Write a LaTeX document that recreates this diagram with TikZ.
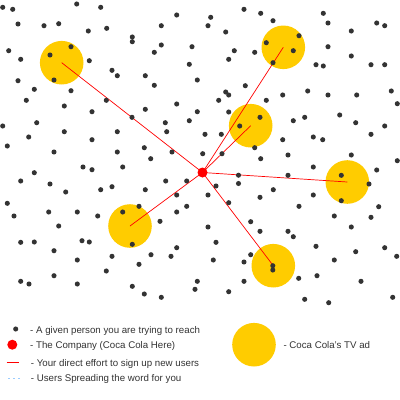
\documentclass[tikz,border=0pt]{standalone}
\usepackage{fontspec}
\setmainfont{Liberation Sans}
\definecolor{dotgray}{HTML}{333333}
\definecolor{adyellow}{HTML}{FFCC00}
\definecolor{txtgray}{HTML}{333333}
\definecolor{wordblue}{HTML}{3399FF}
\begin{document}
\begin{tikzpicture}[x=1pt,y=-1pt,
  person/.style={circle,fill=dotgray,inner sep=0pt,minimum size=5.1pt},
  company/.style={circle,fill=red,inner sep=0pt,minimum size=10pt},
  tvad/.style={circle,fill=adyellow,inner sep=0pt,minimum size=43.6pt},
  effort/.style={red,line width=0.7pt},
  spread/.style={wordblue,line width=1.2pt,dash pattern=on 0.01pt off 5pt,line cap=round},
  legtext/.style={anchor=base west,inner sep=0pt,text=txtgray,font=\fontsize{9.7}{11}\selectfont}]
\useasboundingbox (0,0) rectangle (400,400);
\fill[white] (0,0) rectangle (400,400);
% TV ads
\node[tvad] (ad1) at (61.7,62.7) {};
\node[tvad] (ad2) at (283.3,47.3) {};
\node[tvad] (ad3) at (250.7,125.7) {};
\node[tvad] (ad4) at (130,226) {};
\node[tvad] (ad5) at (347.3,182) {};
\node[tvad] (ad6) at (273.3,265.7) {};
\coordinate (co) at (202.5,172.5);
% direct efforts
\foreach \a in {ad1,ad2,ad3,ad4,ad5,ad6}
  \draw[effort] (co) -- (\a.center);
% people
\foreach [count=\i] \x/\y in {
2.7/7.3,12.7/9.3,76.7/4,100.7/7.3,176.7/15,18/24,44/25.7,58.7/23.7,88.3/31,106.7/28.3,161.3/25.7,132.3/37,132.3/41.7,161.3/45,192/46.7,8.7/50.7,71/46.7,50/55,154.3/52.3,20.7/59.3,89.3/60.7,189.3/64.3,112/70.3,117.3/75.7,145.3/75.7,197.3/80,18/80.7,54/80,154.3/85.3,34.3/89.3,71/90.7,26.3/100.3,106.3/100.3,64.3/106,176.7/104,145.3/109.3,92/111.7,197.3/111.7,132/117.3,189.3/120.7,2.7/126,36.7/122.7,165.3/122.7,166.7/131.7,64.3/131.7,117.3/131.7,28.7/137,92/139.7,7.3/146,144.3/147.7,
210.7/17.3,208/25.7,244/9.3,260.7/13.3,273/20.7,323.3/13.3,328/23,376.7/23,384.7/25.7,225.7/32,351.3/31,299/35.7,266.3/42.7,293.3/50.7,234.3/50.7,254.7/52.3,328/46.7,228.7/59.3,351.3/56,273/62.7,316/64.7,323.3/66,371/64.7,384.7/64.7,245.3/85.7,225.7/92,228.7/95,218.7/100.3,266.3/100.3,282.7/95,307.7/91,328/95,356.7/95,391.3/91,397.3/103.7,228.7/112,260/117.3,239.7/126,293.3/120.7,304.7/117.3,339.7/115,355.7/122.7,384.7/126,205/134.3,221.3/134.3,282.7/139.7,313.3/137,322.7/139.7,371/134.3,254.7/147.7,
54/152,117.3/152,150.7/158.7,172/152,83/167,92/169.7,122.7/167,34.3/172.7,20.7/181,50/184,65.7/192,100.7/189.7,112/186.7,145.3/189.7,165.7/181,186.7/181,176.7/195,7.3/203.3,14/216,48.7/212,77.3/212,97.7/216,122.7/212,139/206.3,176.7/212,186.7/206.3,160/221.3,58.7/226,132.3/244.3,20.7/242.3,34.3/242,82/240.7,89.3/242,54/250.7,77.3/260,112/256.3,151/254.7,171/256.3,176.7/247.7,139/264.3,106.3/271,54/275.7,20.7/281.3,29/284,77.3/284,132.3/286.3,144.3/294,161.3/297.3,197.3/281.3,195/289.3,
202.7/153.7,222/153.7,260.7/158.7,288/155,351.3/155,397.3/160.7,313.3/167,376.7/170,341.3/175.3,369/184,341.3/200.7,238.5/175.2,288/175.3,238.5/183.5,216/186,273.3/189.7,208/195,260/197.3,313.3/195,228.7/202.7,299/206.3,378.7/206.7,334.3/216,371/217.3,250.7/221.7,208/227,260/231.3,288/231.3,293.3/236.7,351.3/227,216/242.3,316/246.3,384.7/247.7,355.7/251.7,396.7/256.3,213.3/260,250.7/254.7,244/262,334.3/260,272.8/265.7,272.8/270,244/281.3,298.7/278.3,317/275.7,361/281.3,228.7/291.7,304.7/299.3,328.7/302.7,392.7/297.3}
  \node[person] (p\i) at (\x,\y) {};
% company
\node[company] (comp) at (co) {};
% legend
\node[person] (lp) at (15.7,329) {};
\node[legtext] (lt1) at (30,333.3) {- A given person you are trying to reach};
\node[company] (lc) at (12.3,344.7) {};
\node[legtext] (lt2) at (30,348.3) {- The Company (Coca Cola Here)};
\coordinate (le1) at (6.7,362.3);
\coordinate (le2) at (19,362.3);
\draw[effort] (le1) -- (le2);
\node[legtext] (lt3) at (30.7,366) {- Your direct effort to sign up new users};
\coordinate (ls1) at (9,378.7);
\coordinate (ls2) at (19.5,378.7);
\draw[spread] (ls1) -- (ls2);
\node[legtext] (lt4) at (30.7,381.3) {- Users Spreading the word for you};
\node[tvad] (la) at (254,344.7) {};
\node[legtext] (lt5) at (283.3,348.3) {- Coca Cola's TV ad};
\end{tikzpicture}
\end{document}
